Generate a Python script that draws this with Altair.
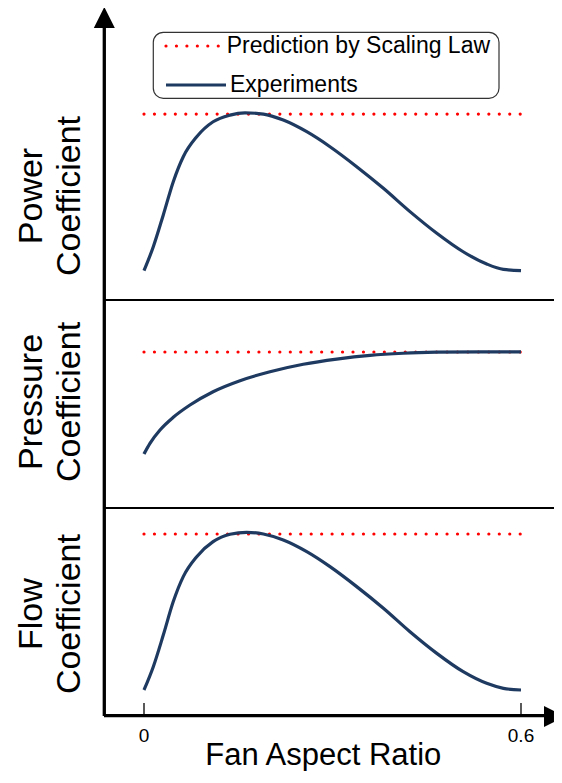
import altair as alt
import pandas as pd

# ---------------- data ----------------
panels = ["Power", "Pressure", "Flow"]
panel_offset = {"Power": 2.0, "Pressure": 1.0, "Flow": 0.0}
label_line1 = ["Power", "Pressure", "Flow"]
label_line2 = ["Coefficient", "Coefficient", "Coefficient"]
label_pos = [0.50, 0.51, 0.49]

power_x = [0, 0.0148, 0.0307, 0.0466, 0.0625, 0.0839, 0.110, 0.1369, 0.1607, 0.190, 0.2217,
           0.259, 0.296, 0.3385, 0.381, 0.4233, 0.466, 0.508, 0.5454, 0.572, 0.6]
power_y = [0.141, 0.256, 0.409, 0.569, 0.689, 0.785, 0.857, 0.889, 0.900, 0.894, 0.865,
           0.809, 0.737, 0.641, 0.537, 0.425, 0.321, 0.232, 0.173, 0.147, 0.141]

pressure_x = [0, 0.0095, 0.0255, 0.0466, 0.0732, 0.110, 0.1528, 0.2005, 0.2535, 0.3067,
              0.3597, 0.4127, 0.4658, 0.5348, 0.6]
pressure_y = [0.260, 0.311, 0.375, 0.436, 0.495, 0.559, 0.612, 0.655, 0.691, 0.716,
              0.734, 0.744, 0.749, 0.751, 0.751]

flow_x = [0, 0.0148, 0.0307, 0.0466, 0.0625, 0.0839, 0.110, 0.1369, 0.1634, 0.190, 0.2217,
          0.259, 0.296, 0.3385, 0.381, 0.4233, 0.466, 0.508, 0.5454, 0.572, 0.6]
flow_y = [0.125, 0.237, 0.389, 0.550, 0.670, 0.766, 0.838, 0.874, 0.883, 0.875, 0.846,
          0.790, 0.718, 0.622, 0.518, 0.405, 0.301, 0.213, 0.157, 0.133, 0.125]

scaling_law = {"Power": 0.894, "Pressure": 0.750, "Flow": 0.875}

x_ticks = [0, 0.6]
x_tick_labels = ["0", "0.6"]
x_title = "Fan Aspect Ratio"
legend_labels = ["Prediction by Scaling Law", "Experiments"]

# ---------------- geometry helpers ----------------
W, H = 450, 708
PX_PER_X = 628.33
PX_PER_Y = 208.0
x_min = -40 / PX_PER_X
x_max = (W - 40) / PX_PER_X
y_max = H / PX_PER_Y


def px2x(px):
    return (px - 40) / PX_PER_X


def px2y(py):
    return (H - py) / PX_PER_Y


# ---------------- tables ----------------
curves = {"Power": (power_x, power_y), "Pressure": (pressure_x, pressure_y), "Flow": (flow_x, flow_y)}
rows = []
for p in panels:
    xs_, ys_ = curves[p]
    for xv, yv in zip(xs_, ys_):
        rows.append({"panel": p, "x": xv, "y": panel_offset[p] + yv})
df_curves = pd.DataFrame(rows)

df_law = pd.DataFrame([{"panel": p, "x0": 0.0, "x1": 0.6, "y": panel_offset[p] + scaling_law[p]} for p in panels])
df_sep = pd.DataFrame({"y": [1.0, 2.0], "xa": [x_min, x_min], "xb": [x_max, x_max]})
df_labels = pd.DataFrame([{"l1": a, "l2": b, "y": panel_offset[p] + c,
                           "xa": px2x(-62.3), "xb": px2x(-24)}
                          for p, a, b, c in zip(panels, label_line1, label_line2, label_pos)])
df_ticks = pd.DataFrame({"x": x_ticks, "ya": [0.0, 0.0], "yb": [13 / PX_PER_Y] * 2})
df_tlab = pd.DataFrame({"x": x_ticks, "t": x_tick_labels, "y": [px2y(734)] * 2})
df_title = pd.DataFrame({"x": [px2x(219.3)], "t": [x_title], "y": [px2y(757)]})

df_vax = pd.DataFrame({"x": [px2x(0.3)], "ya": [px2y(18)], "yb": [px2y(H)]})
df_hax = pd.DataFrame({"xa": [x_min], "xb": [px2x(442)], "y": [px2y(H - 0.3)]})
df_aup = pd.DataFrame({"x": [px2x(0.3)], "y": [px2y(9.5)]})
df_art = pd.DataFrame({"x": [px2x(450.5)], "y": [px2y(H + 0.5)]})

df_box = pd.DataFrame({"xa": [px2x(49.3)], "xb": [px2x(395)], "ya": [px2y(24.3)], "yb": [px2y(90.3)]})
df_ldot = pd.DataFrame({"xa": [px2x(62)], "xb": [px2x(116)], "y": [px2y(38)]})
df_lline = pd.DataFrame({"xa": [px2x(62)], "xb": [px2x(122)], "y": [px2y(77)]})
df_ltxt = pd.DataFrame({"t": legend_labels, "x": [px2x(122.7), px2x(126)], "y": [px2y(45.3), px2y(83.7)]})

FONT = "Liberation Sans"
NAVY = "#1f3a60"


def X(f):
    return alt.X(f, scale=alt.Scale(domain=[x_min, x_max], nice=False, zero=False), axis=None)


def Y(f):
    return alt.Y(f, scale=alt.Scale(domain=[0, y_max], nice=False, zero=False), axis=None)


lines = alt.Chart(df_curves).mark_line(
    color=NAVY, strokeWidth=3.2, interpolate="monotone", clip=False
).encode(x=X("x:Q"), y=Y("y:Q"), detail="panel:N")

law = alt.Chart(df_law).mark_rule(
    color="#ff0000", strokeWidth=3.2, strokeDash=[0.01, 10.44], strokeCap="round"
).encode(x=X("x0:Q"), x2="x1:Q", y=Y("y:Q"))

seps = alt.Chart(df_sep).mark_rule(color="black", strokeWidth=2.2).encode(
    x=X("xa:Q"), x2="xb:Q", y=Y("y:Q")
)

ticks = alt.Chart(df_ticks).mark_rule(color="black", strokeWidth=1.3).encode(
    x=X("x:Q"), y=Y("ya:Q"), y2="yb:Q"
)
tick_labels = alt.Chart(df_tlab).mark_text(
    align="center", baseline="alphabetic", fontSize=19, font=FONT, color="black"
).encode(x=X("x:Q"), y=Y("y:Q"), text="t:N")
title = alt.Chart(df_title).mark_text(
    align="center", baseline="alphabetic", fontSize=31, font=FONT, color="black"
).encode(x=X("x:Q"), y=Y("y:Q"), text="t:N")

vaxis = alt.Chart(df_vax).mark_rule(color="black", strokeWidth=3.3).encode(
    x=X("x:Q"), y=Y("ya:Q"), y2="yb:Q"
)
haxis = alt.Chart(df_hax).mark_rule(color="black", strokeWidth=3.3).encode(
    x=X("xa:Q"), x2="xb:Q", y=Y("y:Q")
)
arrow_up = alt.Chart(df_aup).mark_point(
    shape="M0,-1L1,1L-1,1Z", filled=True, color="black", size=441, opacity=1
).encode(x=X("x:Q"), y=Y("y:Q"))
arrow_right = alt.Chart(df_art).mark_point(
    shape="M-1,-1L-0.05,-0.525L-0.05,0.525L-1,1Z", filled=True, color="black", size=441, opacity=1
).encode(x=X("x:Q"), y=Y("y:Q"))

lab1 = alt.Chart(df_labels).mark_text(
    angle=270, align="center", baseline="alphabetic", fontSize=34, font=FONT, color="black"
).encode(x=X("xa:Q"), y=Y("y:Q"), text="l1:N")
lab2 = alt.Chart(df_labels).mark_text(
    angle=270, align="center", baseline="alphabetic", fontSize=34, font=FONT, color="black"
).encode(x=X("xb:Q"), y=Y("y:Q"), text="l2:N")

# legend (drawn by hand)
leg_box = alt.Chart(df_box).mark_rect(
    fill="white", stroke="#333333", strokeWidth=1.2, cornerRadius=10
).encode(x=X("xa:Q"), x2="xb:Q", y=Y("ya:Q"), y2="yb:Q")
leg_dot = alt.Chart(df_ldot).mark_rule(
    color="#ff0000", strokeWidth=3.2, strokeDash=[0.01, 10.44], strokeCap="round"
).encode(x=X("xa:Q"), x2="xb:Q", y=Y("y:Q"))
leg_line = alt.Chart(df_lline).mark_rule(color=NAVY, strokeWidth=3.2).encode(
    x=X("xa:Q"), x2="xb:Q", y=Y("y:Q")
)
leg_txt = alt.Chart(df_ltxt).mark_text(
    align="left", baseline="alphabetic", fontSize=23, font=FONT, color="black"
).encode(x=X("x:Q"), y=Y("y:Q"), text="t:N")

chart = alt.layer(
    seps, law, lines, ticks, tick_labels, title, vaxis, haxis, arrow_up, arrow_right,
    lab1, lab2, leg_box, leg_dot, leg_line, leg_txt
).properties(
    width=W, height=H,
    autosize=alt.AutoSizeParams(type="none"),
    padding={"left": 96, "top": 0, "right": 0, "bottom": 55},
    background="white",
).configure_view(stroke=None)

chart.save("out.html", embed_options={"renderer": "svg", "actions": False})
